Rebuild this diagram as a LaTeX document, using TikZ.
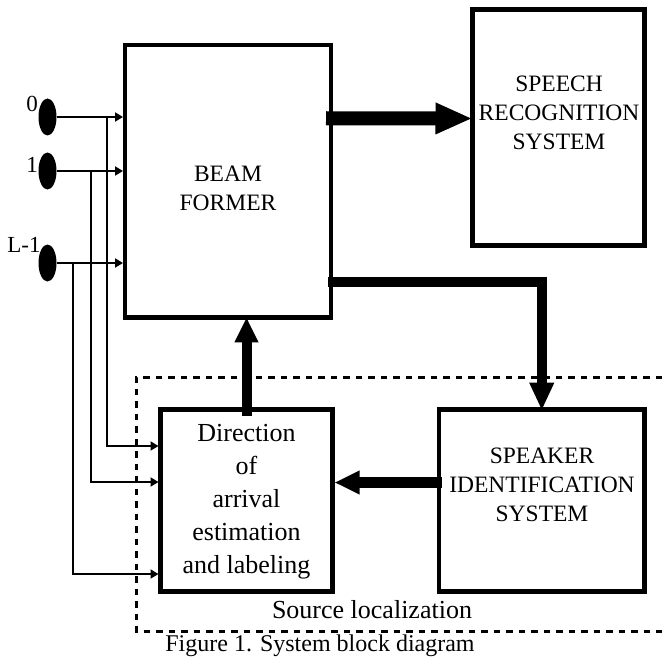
\documentclass[tikz,border=0pt]{standalone}
\usepackage{fontspec}
\setmainfont{Liberation Serif}
\usetikzlibrary{arrows.meta,shapes.geometric,calc}
\begin{document}
\begin{tikzpicture}[x=1pt,y=-1pt,
  blk/.style={draw,line width=4.5pt,inner sep=0pt,outer sep=0pt},
  captxt/.style={font=\fontsize{23.5}{29}\selectfont,align=center,inner sep=0pt},
  lowtxt/.style={font=\fontsize{26}{33}\selectfont,align=center,inner sep=0pt},
  mic/.style={ellipse,fill=black,minimum width=18pt,minimum height=37pt,inner sep=0pt,outer sep=0pt},
  miclbl/.style={font=\fontsize{23}{28}\selectfont,inner sep=0pt},
  thinarr/.style={line width=1.8pt,-{Triangle[length=8pt,width=9pt]}},
  bigarr/.style={line width=14pt,-{Triangle[length=37pt,width=29pt]}},
  midarr/.style={line width=10pt,-{Triangle[length=28pt,width=23pt]}},
  dotbox/.style={line width=3pt,dash pattern=on 6.5pt off 6pt}
]
\useasboundingbox (0,0) rectangle (662,663);

% blocks
\node[blk,minimum width=206pt,minimum height=272pt] (bf) at (228,181.25) {};
\node[blk,minimum width=172pt,minimum height=236pt] (sr) at (558.5,127.5) {};
\node[blk,minimum width=205.5pt,minimum height=182pt] (sp) at (541.75,500.5) {};
\node[blk,minimum width=172pt,minimum height=182pt] (dir) at (246.5,500.5) {};

% block texts
\node[captxt] (bft) at (228,188) {BEAM\\FORMER};
\node[captxt] (srt) at (559,113) {SPEECH\\RECOGNITION\\SYSTEM};
\node[captxt] (spt) at (542,485) {SPEAKER\\IDENTIFICATION\\SYSTEM};
\node[lowtxt] (dirt) at (246.5,502) {Direction\\of\\arrival\\estimation\\and labeling};

% microphones
\node[mic] (m0) at (47.5,117) {};
\node[mic] (m1) at (47.5,171) {};
\node[mic] (m2) at (47.5,263) {};
\node[miclbl] (l0) at (32,104) {0};
\node[miclbl] (l1) at (32,165) {1};
\node[miclbl] (l2) at (24,245) {L-1};

% mic to beamformer
\draw[thinarr,shorten >=2pt] (m0.east) -- (m0.east -| bf.west);
\draw[thinarr,shorten >=2pt] (m1.east) -- (m1.east -| bf.west);
\draw[thinarr,shorten >=2pt] (m2.east) -- (m2.east -| bf.west);

% branches to DOA block
\coordinate (b0) at (107,117);
\coordinate (b1) at (91,171);
\coordinate (b2) at (73,263);
\draw[thinarr,shorten >=2pt] (b0) |- ([yshift=54.5pt]dir.west);
\draw[thinarr,shorten >=2pt] (b1) |- ([yshift=18.5pt]dir.west);
\draw[thinarr,shorten >=2pt] (b2) |- ([yshift=-73.5pt]dir.west);

% thick arrows
\draw[bigarr] ($(bf.north east)+(-5,73)$) -- ($(sr.west)+(0,-9)$);
\draw[midarr] ($(bf.north east)+(-3,236.5)$) -| ($(sp.north)+(0,1)$);
\draw[midarr,line width=10pt,-{Triangle[length=25pt,width=22pt]}] ($(dir.north)+(0,6)$) -- (dir.north |- bf.south);
\draw[midarr,line width=11pt,-{Triangle[length=25pt,width=22pt]}] ($(sp.west)+(3,-18)$) -- ($(dir.east)+(2,-18)$);

% source localization dotted region
\coordinate (dtr) at (662,377);
\coordinate (dtl) at (136,377);
\coordinate (dbl) at (136,631);
\coordinate (dbr) at (662,631);
\draw[dotbox] (dtr) -- (dtl) -- (dbl) -- (dbr);
\node[lowtxt] (slt) at (372,610) {Source localization};

% caption
\node[font=\fontsize{24}{28}\selectfont,inner sep=0pt] (cap) at (320,646) {Figure 1. System block diagram};
\end{tikzpicture}
\end{document}
